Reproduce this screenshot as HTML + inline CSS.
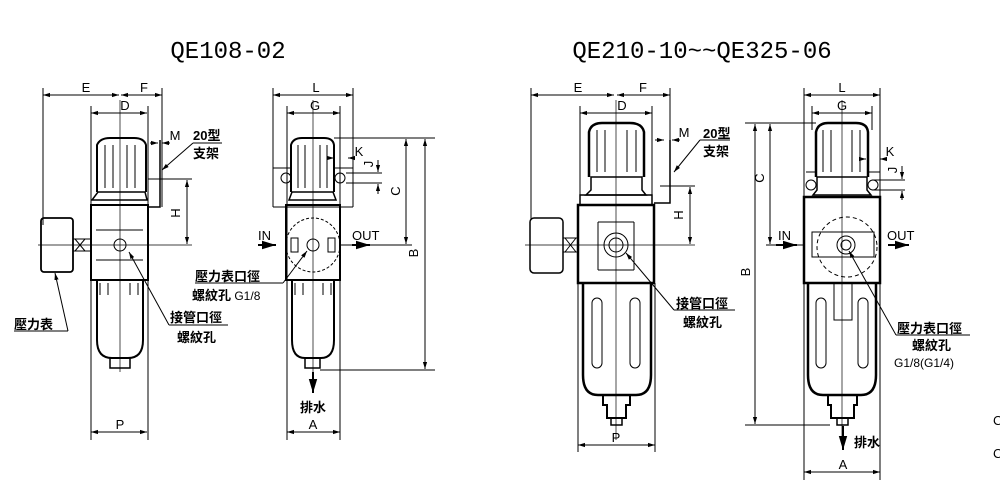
<!DOCTYPE html>
<html><head><meta charset="utf-8"><style>
html,body{margin:0;padding:0;background:#fff;width:1000px;height:500px;overflow:hidden}
svg{display:block}
text{font-family:"Liberation Sans","Noto Sans CJK TC",sans-serif;fill:#000}
.t{font-family:"Liberation Mono","DejaVu Sans Mono",monospace;font-size:24px}
.cj{font-family:"Noto Sans CJK TC","WenQuanYi Zen Hei",sans-serif;font-weight:bold;font-size:13px}
</style></head><body>
<svg width="1000" height="500" viewBox="0 0 1000 500" xmlns="http://www.w3.org/2000/svg">
<defs>
<marker id="a" viewBox="0 0 10 10" refX="10" refY="5" markerWidth="7" markerHeight="7" orient="auto-start-reverse"><path d="M0,2 L10,5 L0,8z" fill="#000"/></marker>
</defs>
<text class="t" x="228" y="58" text-anchor="middle">QE108-02</text>
<text class="t" x="702" y="58" text-anchor="middle">QE210-10~~QE325-06</text>

<g stroke="#000" fill="none" stroke-width="1">
<!-- ===== Unit 1 ===== -->
<line x1="43" y1="88" x2="43" y2="225"/><line x1="162" y1="88" x2="162" y2="207"/>
<line x1="43" y1="95" x2="119" y2="95" marker-start="url(#a)" marker-end="url(#a)"/>
<line x1="121" y1="95" x2="162" y2="95" marker-start="url(#a)" marker-end="url(#a)"/>
<line x1="91" y1="106" x2="91" y2="440"/><line x1="148" y1="106" x2="148" y2="440"/>
<line x1="91" y1="113" x2="147" y2="113" marker-start="url(#a)" marker-end="url(#a)"/>
<line x1="120" y1="100" x2="120" y2="372" stroke-width="0.7"/>
<line x1="38" y1="245" x2="192" y2="245" stroke-width="0.7"/>
<path d="M97,192 L97,145 Q100,138 110,138 L134,138 Q144,138 146,145 L146,192" stroke-width="2"/>
<path d="M105,145 V188 M113,145 V188 M127,145 V188 M135,145 V188"/>
<path d="M98,192 H145 L147,200 H92 Z" stroke-width="1.5"/>
<rect x="91" y="205" width="57" height="75" stroke-width="2"/>
<path d="M96,230 H143 M96,260 H143"/>
<circle cx="120" cy="245" r="6"/>
<path d="M97,280 V340 Q97,358 112,358 H128 Q143,358 143,340 V280" stroke-width="2"/>
<path d="M100,283 v12 M108,283 v12 M130,283 v12 M138,283 v12"/>
<rect x="110" y="358" width="20" height="10" stroke-width="1.5"/>
<rect x="41" y="218" width="32" height="54" rx="3" stroke-width="1.8"/>
<rect x="73" y="239" width="18" height="12"/><path d="M75,239 L85,251 M85,239 L75,251"/>
<path d="M160,140 V207 H148" stroke-width="1.5"/>
<line x1="148" y1="179" x2="192" y2="179"/>
<line x1="187" y1="180" x2="187" y2="244" marker-start="url(#a)" marker-end="url(#a)"/>
<line x1="150" y1="143" x2="158" y2="143" marker-end="url(#a)"/><line x1="170" y1="143" x2="162" y2="143" marker-end="url(#a)"/>
<line x1="193" y1="143" x2="162" y2="170" marker-end="url(#a)"/>
<line x1="193" y1="143" x2="222" y2="143"/>
<line x1="55" y1="273" x2="68" y2="331" marker-start="url(#a)"/>
<line x1="14" y1="331" x2="68" y2="331"/>
<line x1="129" y1="252" x2="169" y2="325" marker-start="url(#a)"/>
<line x1="169" y1="325" x2="228" y2="325"/>
<line x1="91" y1="432" x2="147" y2="432" marker-start="url(#a)" marker-end="url(#a)"/>

<!-- ===== Unit 2 ===== -->
<line x1="273" y1="88" x2="273" y2="207"/><line x1="353" y1="88" x2="353" y2="207"/>
<line x1="273" y1="95" x2="353" y2="95" marker-start="url(#a)" marker-end="url(#a)"/>
<line x1="287" y1="106" x2="287" y2="440"/><line x1="340" y1="106" x2="340" y2="440"/>
<line x1="287" y1="113" x2="340" y2="113" marker-start="url(#a)" marker-end="url(#a)"/>
<line x1="313" y1="100" x2="313" y2="372" stroke-width="0.7"/>
<path d="M273,168 H290 M334,168 H353 M273,207 H353"/>
<rect x="281" y="173" width="10" height="10" rx="5"/><rect x="335" y="173" width="10" height="10" rx="5"/>
<path d="M291,192 L291,145 Q293,138 302,138 L324,138 Q333,138 334,145 L334,192" stroke-width="2"/>
<path d="M298,145 V188 M305,145 V188 M320,145 V188 M327,145 V188"/>
<path d="M292,192 H333 L336,200 H289 Z" stroke-width="1.5"/>
<rect x="286" y="205" width="54" height="75" stroke-width="2"/>
<circle cx="313" cy="245" r="27" stroke-dasharray="3,2"/>
<circle cx="313" cy="245" r="6"/>
<rect x="291" y="238" width="7" height="14"/><rect x="328" y="238" width="7" height="14"/>
<path d="M292,280 V340 Q292,358 305,358 H321 Q334,358 334,340 V280" stroke-width="2"/>
<path d="M295,283 v12 M303,283 v12 M323,283 v12 M331,283 v12"/>
<rect x="305" y="358" width="15" height="10" stroke-width="1.5"/>
<line x1="258" y1="245" x2="276" y2="245" stroke-width="2" marker-end="url(#a)"/>
<line x1="352" y1="245" x2="370" y2="245" stroke-width="2" marker-end="url(#a)"/>
<line x1="334" y1="138" x2="435" y2="138"/>
<line x1="340" y1="245" x2="412" y2="245"/>
<line x1="320" y1="370" x2="435" y2="370"/>
<line x1="406" y1="139" x2="406" y2="244" marker-start="url(#a)" marker-end="url(#a)"/>
<line x1="425" y1="139" x2="425" y2="369" marker-start="url(#a)" marker-end="url(#a)"/>
<line x1="328" y1="158" x2="334" y2="158" marker-end="url(#a)"/><line x1="354" y1="158" x2="348" y2="158" marker-end="url(#a)"/>
<path d="M346,173 H382 M346,183 H382"/>
<line x1="378" y1="160" x2="378" y2="172" marker-end="url(#a)"/><line x1="378" y1="194" x2="378" y2="184" marker-end="url(#a)"/>
<line x1="283" y1="283" x2="307" y2="251" marker-end="url(#a)"/>
<line x1="195" y1="283" x2="283" y2="283"/>
<line x1="313" y1="372" x2="313" y2="393" stroke-width="2" marker-end="url(#a)"/>
<line x1="287" y1="432" x2="340" y2="432" marker-start="url(#a)" marker-end="url(#a)"/>

<!-- ===== Unit 3 ===== -->
<line x1="531" y1="88" x2="531" y2="220"/><line x1="670" y1="88" x2="670" y2="140"/>
<line x1="531" y1="95" x2="614" y2="95" marker-start="url(#a)" marker-end="url(#a)"/>
<line x1="617" y1="95" x2="670" y2="95" marker-start="url(#a)" marker-end="url(#a)"/>
<line x1="580" y1="106" x2="580" y2="195"/><line x1="652" y1="106" x2="652" y2="195"/>
<line x1="578" y1="283" x2="578" y2="452"/><line x1="655" y1="283" x2="655" y2="452"/>
<line x1="580" y1="113" x2="652" y2="113" marker-start="url(#a)" marker-end="url(#a)"/>
<line x1="616" y1="100" x2="616" y2="440" stroke-width="0.7"/>
<line x1="525" y1="245" x2="695" y2="245" stroke-width="0.7"/>
<path d="M589,177 V132 Q591,123 602,123 H630 Q642,123 644,132 V177" stroke-width="2.5"/>
<path d="M597,130 V172 M605,130 V172 M627,130 V172 M636,130 V172"/>
<path d="M591,177 H642 V190 L646,195 H586 L591,190 Z" stroke-width="1.5"/>
<path d="M580,195 H652 V205 H580 Z" stroke-width="1.5"/>
<path d="M578,205 H654 V283 H578 Z" stroke-width="2.5"/>
<path d="M598,222 H634 M598,270 H634 M598,222 V270 M634,222 V270"/>
<circle cx="616" cy="245" r="12"/><circle cx="616" cy="245" r="7"/>
<path d="M583,283 V375 Q583,395 598,395 H636 Q651,395 651,375 V283" stroke-width="2.5"/>
<rect x="592" y="298" width="10" height="70" rx="5"/><rect x="630" y="298" width="10" height="70" rx="5"/>
<path d="M603,395 V405 H607 V418 H626 V405 H630 V395" stroke-width="2"/>
<rect x="611" y="418" width="11" height="7" stroke-width="1.5"/>
<rect x="530" y="218" width="33" height="55" rx="4" stroke-width="1.5"/>
<rect x="563" y="238" width="15" height="14"/><path d="M565,238 L576,252 M576,238 L565,252"/>
<path d="M670,140 V203 H654" stroke-width="1.5"/>
<line x1="660" y1="186" x2="695" y2="186"/>
<line x1="690" y1="187" x2="690" y2="244" marker-start="url(#a)" marker-end="url(#a)"/>
<line x1="655" y1="140" x2="664" y2="140" marker-end="url(#a)"/><line x1="680" y1="140" x2="672" y2="140" marker-end="url(#a)"/>
<line x1="700" y1="140" x2="674" y2="172" marker-end="url(#a)"/>
<line x1="700" y1="140" x2="730" y2="140"/>
<line x1="626" y1="253" x2="674" y2="310" marker-start="url(#a)"/>
<line x1="674" y1="310" x2="735" y2="310"/>
<line x1="578" y1="445" x2="655" y2="445" marker-start="url(#a)" marker-end="url(#a)"/>

<!-- ===== Unit 4 ===== -->
<line x1="804" y1="88" x2="804" y2="480"/><line x1="880" y1="88" x2="880" y2="480"/>
<line x1="804" y1="95" x2="880" y2="95" marker-start="url(#a)" marker-end="url(#a)"/>
<line x1="812" y1="106" x2="812" y2="130"/><line x1="872" y1="106" x2="872" y2="130"/>
<line x1="812" y1="113" x2="872" y2="113" marker-start="url(#a)" marker-end="url(#a)"/>
<line x1="842" y1="100" x2="842" y2="440" stroke-width="0.7"/>
<path d="M816,177 V132 Q818,123 828,123 H856 Q867,123 868,132 V177" stroke-width="2.5"/>
<path d="M823,130 V172 M831,130 V172 M852,130 V172 M860,130 V172"/>
<path d="M806,172 H816 M868,172 H880"/>
<rect x="806" y="180" width="10" height="10" rx="5"/><rect x="868" y="180" width="10" height="10" rx="5"/>
<path d="M817,177 H867 V190 L871,195 H813 L817,190 Z" stroke-width="1.5"/>
<path d="M804,197 H880 V283 H804 Z" stroke-width="2.5"/>
<circle cx="847" cy="247" r="30" stroke-dasharray="4,3"/>
<circle cx="846" cy="245" r="9"/><circle cx="846" cy="245" r="5"/>
<rect x="812" y="232" width="62" height="25"/>
<path d="M808,283 V375 Q808,395 823,395 H861 Q876,395 876,375 V283" stroke-width="2.5"/>
<rect x="816" y="298" width="10" height="70" rx="5"/><rect x="858" y="298" width="10" height="70" rx="5"/>
<path d="M834,283 V320 H852 V283"/>
<path d="M828,395 V405 H831 V418 H854 V405 H857 V395" stroke-width="2"/>
<rect x="837" y="418" width="11" height="7" stroke-width="1.5"/>
<line x1="776" y1="245" x2="797" y2="245" stroke-width="2" marker-end="url(#a)"/>
<line x1="888" y1="245" x2="909" y2="245" stroke-width="2" marker-end="url(#a)"/>
<line x1="745" y1="123" x2="816" y2="123"/>
<line x1="766" y1="245" x2="804" y2="245"/>
<line x1="745" y1="425" x2="830" y2="425"/>
<line x1="770" y1="124" x2="770" y2="244" marker-start="url(#a)" marker-end="url(#a)"/>
<line x1="755" y1="124" x2="755" y2="424" marker-start="url(#a)" marker-end="url(#a)"/>
<line x1="860" y1="159" x2="866" y2="159" marker-end="url(#a)"/><line x1="886" y1="159" x2="880" y2="159" marker-end="url(#a)"/>
<path d="M872,180 H905 M872,190 H905"/>
<line x1="902" y1="166" x2="902" y2="179" marker-end="url(#a)"/><line x1="902" y1="200" x2="902" y2="191" marker-end="url(#a)"/>
<line x1="849" y1="251" x2="896" y2="335" marker-start="url(#a)"/>
<line x1="896" y1="335" x2="970" y2="335"/>
<line x1="843" y1="426" x2="843" y2="450" stroke-width="2" marker-end="url(#a)"/>
<line x1="804" y1="472" x2="880" y2="472" marker-start="url(#a)" marker-end="url(#a)"/>
</g>

<g font-size="13">
<text x="86" y="92" text-anchor="middle">E</text><text x="144" y="92" text-anchor="middle">F</text>
<text x="125" y="110" text-anchor="middle">D</text><text x="175" y="140" text-anchor="middle">M</text>
<text x="120" y="429" text-anchor="middle">P</text>
<text x="180" y="213" text-anchor="middle" transform="rotate(-90 180 213)">H</text>
<text x="316" y="92" text-anchor="middle">L</text><text x="315" y="110" text-anchor="middle">G</text>
<text x="359" y="156" text-anchor="middle">K</text>
<text x="373" y="164" text-anchor="middle" transform="rotate(-90 373 164)">J</text>
<text x="400" y="191" text-anchor="middle" transform="rotate(-90 400 191)">C</text>
<text x="418" y="253" text-anchor="middle" transform="rotate(-90 418 253)">B</text>
<text x="258" y="240">IN</text><text x="352" y="240">OUT</text>
<text x="313" y="429" text-anchor="middle">A</text>
<text x="578" y="92" text-anchor="middle">E</text><text x="643" y="92" text-anchor="middle">F</text>
<text x="622" y="110" text-anchor="middle">D</text><text x="684" y="137" text-anchor="middle">M</text>
<text x="616" y="442" text-anchor="middle">P</text>
<text x="683" y="215" text-anchor="middle" transform="rotate(-90 683 215)">H</text>
<text x="842" y="92" text-anchor="middle">L</text><text x="842" y="110" text-anchor="middle">G</text>
<text x="890" y="156" text-anchor="middle">K</text>
<text x="897" y="170" text-anchor="middle" transform="rotate(-90 897 170)">J</text>
<text x="764" y="178" text-anchor="middle" transform="rotate(-90 764 178)">C</text>
<text x="750" y="272" text-anchor="middle" transform="rotate(-90 750 272)">B</text>
<text x="778" y="240">IN</text><text x="887" y="240">OUT</text>
<text x="843" y="469" text-anchor="middle">A</text>
<text x="993" y="425">C</text><text x="993" y="458">C</text>
</g>
<g class="cj">
<text x="193" y="140">20型</text><text x="193" y="158">支架</text>
<text x="14" y="329">壓力表</text>
<text x="170" y="322">接管口徑</text><text x="177" y="342">螺紋孔</text>
<text x="195" y="281">壓力表口徑</text><text x="192" y="300">螺紋孔<tspan font-weight="normal" font-size="12" font-family="Liberation Sans"> G1/8</tspan></text>
<text x="300" y="412">排水</text>
<text x="703" y="138">20型</text><text x="703" y="156">支架</text>
<text x="676" y="308">接管口徑</text><text x="683" y="327">螺紋孔</text>
<text x="897" y="333">壓力表口徑</text><text x="912" y="350">螺紋孔</text>
<text x="894" y="367" font-weight="normal" font-size="12" font-family="Liberation Sans">G1/8(G1/4)</text>
<text x="854" y="447">排水</text>
</g>
</svg>
</body></html>
